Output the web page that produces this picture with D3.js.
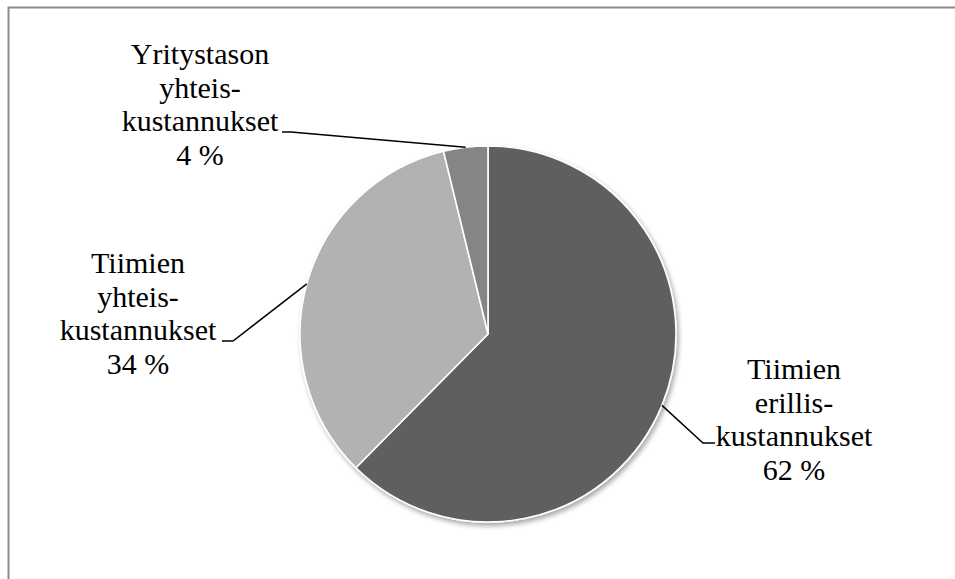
<!DOCTYPE html>
<html><head><meta charset="utf-8"><script src="https://cdn.jsdelivr.net/npm/d3@7"></script></head>
<body style="margin:0">
<svg id="s" width="955" height="579"></svg>
<script>
// Data
const categories = ["Tiimien erillis-kustannukset", "Tiimien yhteis-kustannukset", "Yritystason yhteis-kustannukset"];
const labelLines = [
  ["Tiimien", "erillis-", "kustannukset"],
  ["Tiimien", "yhteis-", "kustannukset"],
  ["Yritystason", "yhteis-", "kustannukset"]
];
const values = [62.4, 33.8, 3.8];
const colors = ["#5f5f5f", "#b2b2b2", "#858585"];

// Layout
const cx = 488, cy = 334, R = 188;
const fontSize = 30, lineH = 33.5;
const labelPos = [
  { x: 794, y: 379, elbow: [703, 443], end: [715, 443] },
  { x: 138, y: 273, elbow: [233, 341], end: [222, 341] },
  { x: 200, y: 64,  elbow: [291, 132], end: [282, 132] }
];

const svg = d3.select("#s");

const defs = svg.append("defs");
const f = defs.append("filter").attr("id", "shadow")
  .attr("x", "-20%").attr("y", "-20%").attr("width", "140%").attr("height", "140%");
f.append("feDropShadow").attr("dx", 2).attr("dy", 3).attr("stdDeviation", 2.5)
  .attr("flood-color", "#000").attr("flood-opacity", 0.35);

// frame
svg.append("rect")
  .attr("x", 8.5).attr("y", 7.5).attr("width", 1000).attr("height", 1000)
  .attr("fill", "none").attr("stroke", "#8a8a8a").attr("stroke-width", 2);

const pie = d3.pie().sort(null).value(d => d)
  .startAngle(0).endAngle(2 * Math.PI);
const arcs = pie(values);
const arcGen = d3.arc().innerRadius(0).outerRadius(R);

const g = svg.append("g").attr("transform", `translate(${cx},${cy})`);
g.append("g").attr("filter", "url(#shadow)")
  .selectAll("path")
  .data(arcs)
  .join("path")
  .attr("d", arcGen)
  .attr("fill", (d, i) => colors[i])
  .attr("stroke", "#fff")
  .attr("stroke-width", 1.6)
  .attr("stroke-linejoin", "round");

const fmt = d3.format(".0f");
const rows = [];
arcs.forEach((a, i) => {
  const mid = (a.startAngle + a.endAngle) / 2;
  const px = cx + R * Math.sin(mid);
  const py = cy - R * Math.cos(mid);
  const lp = labelPos[i];
  svg.append("polyline")
    .attr("points", [[px, py], lp.elbow, lp.end].map(p => p.join(",")).join(" "))
    .attr("fill", "none").attr("stroke", "#000").attr("stroke-width", 1.5);
  labelLines[i].concat([fmt(values[i]) + " %"]).forEach((ln, k) => {
    rows.push({ x: lp.x, y: lp.y + k * lineH, t: ln });
  });
});

svg.selectAll("text.lbl").data(rows).join("text")
  .attr("class", "lbl")
  .attr("x", d => d.x).attr("y", d => d.y)
  .attr("text-anchor", "middle")
  .attr("font-size", fontSize)
  .attr("font-family", d => "Liberation Serif")
  .text(d => d.t);
</script></body></html>
